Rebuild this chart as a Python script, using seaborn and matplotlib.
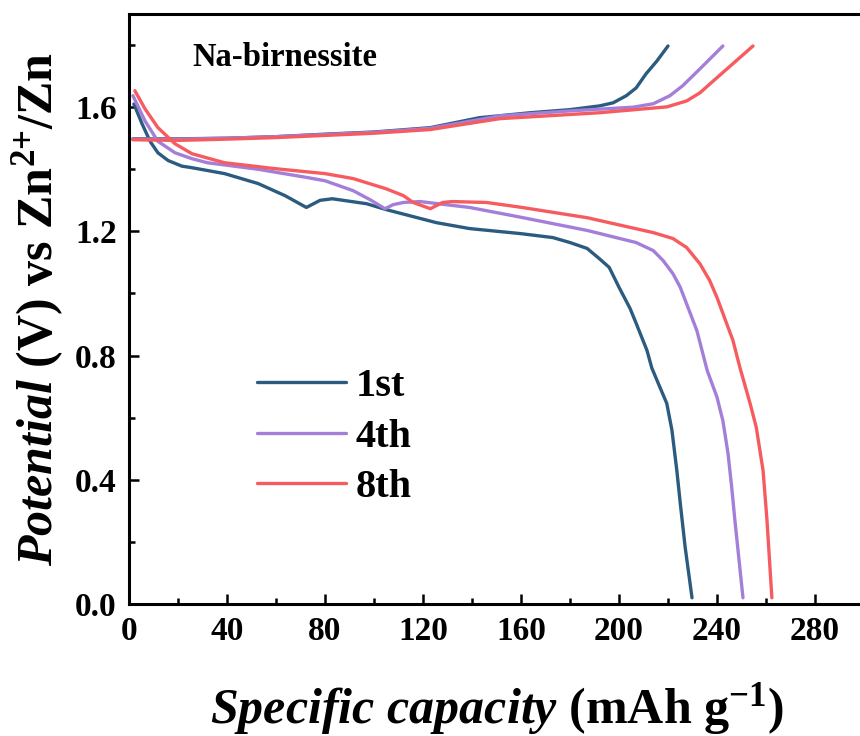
import numpy as np
import pandas as pd
import matplotlib
matplotlib.use("Agg")
import matplotlib.pyplot as plt
import seaborn as sns
from matplotlib.ticker import MultipleLocator, FormatStrFormatter

# ---- data ----
cycles = ["1st", "4th", "8th"]
colors = ["#2c5b80", "#a37fd9", "#f65b5f"]

dis1_x = [2, 5.3, 8.6, 11.8, 16, 21.6, 25.7, 39, 52.7, 63.7, 72.4, 78, 83, 90, 97, 105, 125.5, 139, 159.6, 173, 180, 187, 192, 196, 200, 204.5, 207, 211.4, 213.4, 216.7, 219.5, 221.6, 223.6, 225, 227, 229.8]
dis1_y = [1.61, 1.547, 1.49, 1.453, 1.428, 1.41, 1.405, 1.386, 1.354, 1.315, 1.277, 1.30, 1.305, 1.297, 1.289, 1.27, 1.228, 1.209, 1.193, 1.18, 1.164, 1.145, 1.112, 1.084, 1.02, 0.952, 0.904, 0.817, 0.76, 0.698, 0.646, 0.56, 0.43, 0.325, 0.183, 0.02]

dis4_x = [1.6, 6.5, 11.8, 18.8, 25.7, 32, 52.7, 73, 80, 91.5, 98.4, 104.5, 107.8, 112, 118.8, 139, 159.6, 187, 207, 214, 218, 222, 225, 231.8, 236, 240, 242.4, 244.5, 246, 247.3, 250.6]
dis4_y = [1.637, 1.556, 1.49, 1.453, 1.434, 1.421, 1.40, 1.373, 1.363, 1.331, 1.302, 1.273, 1.286, 1.293, 1.296, 1.277, 1.246, 1.203, 1.164, 1.138, 1.106, 1.064, 1.02, 0.88, 0.752, 0.666, 0.59, 0.485, 0.376, 0.27, 0.02]

dis8_x = [2.4, 6.5, 11.8, 18.8, 25.7, 39, 59.6, 80, 91.5, 105, 112, 116, 123, 128, 132, 146, 159.6, 187, 214, 222, 227.6, 233, 237, 240, 246.5, 249.4, 253.5, 256, 258.8, 260.4, 262.4]
dis8_y = [1.653, 1.595, 1.534, 1.482, 1.45, 1.421, 1.402, 1.386, 1.37, 1.337, 1.315, 1.293, 1.273, 1.293, 1.296, 1.293, 1.278, 1.244, 1.196, 1.177, 1.148, 1.096, 1.042, 0.987, 0.849, 0.76, 0.646, 0.57, 0.43, 0.27, 0.02]

chg1_x = [1.6, 20, 40, 60, 80, 100, 123, 143, 163.7, 180, 192, 197.6, 203, 207, 211, 215.5, 220]
chg1_y = [1.498, 1.498, 1.50, 1.505, 1.513, 1.52, 1.534, 1.566, 1.582, 1.592, 1.604, 1.614, 1.637, 1.662, 1.707, 1.749, 1.797]

chg4_x = [1.6, 20, 40, 60, 80, 100, 123, 151.4, 180, 205.8, 214, 220.8, 226, 233, 242.4]
chg4_y = [1.497, 1.497, 1.50, 1.505, 1.512, 1.519, 1.532, 1.572, 1.588, 1.60, 1.611, 1.637, 1.669, 1.723, 1.797]

chg8_x = [1.6, 20, 40, 60, 80, 100, 123, 151.4, 192, 219.6, 227.6, 233, 240, 246.5, 254.7]
chg8_y = [1.495, 1.493, 1.497, 1.502, 1.509, 1.516, 1.528, 1.563, 1.582, 1.601, 1.62, 1.646, 1.695, 1.74, 1.797]

x_ticks = [0, 40, 80, 120, 160, 200, 240, 280]
y_ticks = [0.0, 0.4, 0.8, 1.2, 1.6]

# ---- build long-form table ----
frames = []
for cyc, (dx, dy, cx, cy) in zip(cycles, [(dis1_x, dis1_y, chg1_x, chg1_y),
                                          (dis4_x, dis4_y, chg4_x, chg4_y),
                                          (dis8_x, dis8_y, chg8_x, chg8_y)]):
    frames.append(pd.DataFrame({"cap": dx, "pot": dy, "cycle": cyc, "branch": "dis"}))
    frames.append(pd.DataFrame({"cap": cx, "pot": cy, "cycle": cyc, "branch": "chg"}))
df = pd.concat(frames, ignore_index=True)

sns.set_style("ticks")
plt.rcParams["font.family"] = ["Liberation Serif", "DejaVu Serif"]
plt.rcParams["font.weight"] = "bold"
plt.rcParams["text.color"] = "black"
plt.rcParams["axes.labelcolor"] = "black"
plt.rcParams["xtick.color"] = "black"
plt.rcParams["ytick.color"] = "black"
plt.rcParams["mathtext.fontset"] = "custom"
plt.rcParams["mathtext.rm"] = "Liberation Serif:bold"
plt.rcParams["mathtext.bf"] = "Liberation Serif:bold"
plt.rcParams["mathtext.it"] = "Liberation Serif:italic:bold"

fig = plt.figure(figsize=(8.6, 7.36), dpi=100)
ax = fig.add_axes([129 / 860, 132 / 736, 735 / 860, 590 / 736])

sns.lineplot(data=df, x="cap", y="pot", hue="cycle", units="branch", estimator=None,
             sort=False, palette=dict(zip(cycles, colors)), hue_order=cycles,
             linewidth=2.4, ax=ax)

ax.set_xlim(0, 300)
ax.set_ylim(0, 1.9)
ax.set_xticks(x_ticks)
ax.set_yticks(y_ticks)
ax.xaxis.set_minor_locator(MultipleLocator(20))
ax.yaxis.set_minor_locator(MultipleLocator(0.2))
ax.yaxis.set_major_formatter(FormatStrFormatter("%.1f"))
ax.xaxis.set_major_formatter(FormatStrFormatter("%d"))

for s in ax.spines.values():
    s.set_linewidth(2.2)
    s.set_color("black")
ax.tick_params(which="both", direction="in", width=1.8, colors="black")
ax.tick_params(which="major", length=7, labelsize=24, pad=9)
ax.tick_params(which="minor", length=4)
for lab in ax.get_xticklabels() + ax.get_yticklabels():
    lab.set_fontweight("bold")

ax.set_xlabel(r"$\mathit{Specific\ capacity}$ (mAh g$^{-1}$)", fontsize=36,
              fontweight="bold", labelpad=24, color="black")
ax.set_ylabel(r"$\mathit{Potential}$ (V) vs Zn$^{2{+}}$/Zn", fontsize=36,
              fontweight="bold", labelpad=6, color="black")

ax.text(26, 1.733, "Na-birnessite", fontsize=23.5, fontweight="bold", va="baseline",
        ha="left", color="black")

handles, labels = ax.get_legend_handles_labels()
leg = ax.legend(handles, labels, loc="upper left", bbox_to_anchor=(257 / 860, 1 - 368 / 736),
                bbox_transform=fig.transFigure, frameon=False,
                handlelength=2.2, handletextpad=0.25, labelspacing=0.33, borderpad=0,
                borderaxespad=0, prop={"weight": "bold", "size": 29})
for h in leg.get_lines():
    h.set_linewidth(2.4)
for t in leg.get_texts():
    t.set_color("black")

fig.savefig("out.png", dpi=100)
